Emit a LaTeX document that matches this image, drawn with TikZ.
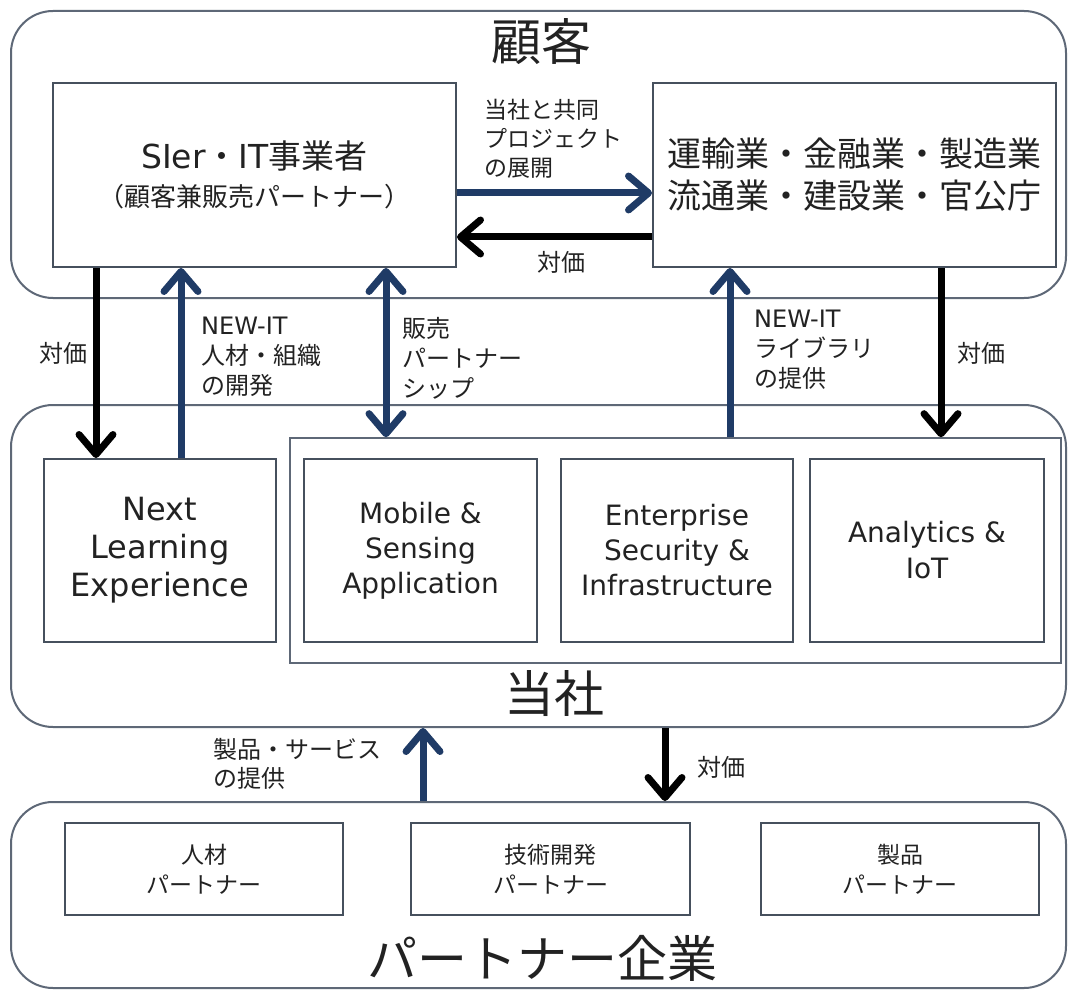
\documentclass[tikz,border=0pt]{standalone}
\usepackage{fontspec}
\setmainfont{Noto Sans CJK JP}
\newfontfamily\lat{DejaVu Sans}
\usetikzlibrary{arrows.meta}
\definecolor{navy}{HTML}{1F3B66}
\definecolor{frame}{HTML}{5E6877}
\definecolor{ink}{HTML}{222222}
\definecolor{boxline}{HTML}{46505D}
\newcommand{\fz}[2]{\fontsize{#1pt}{#2pt}\selectfont}
\begin{document}
\begin{tikzpicture}[x=1pt,y=-1pt,
  outer/.style={draw=frame, line width=2pt, rounded corners=42pt, inner sep=0pt},
  box/.style={draw=boxline, line width=2pt, inner sep=0pt, align=center, text=ink},
  title/.style={inner sep=0pt, text=ink, font=\fz{50}{60}},
  lbl/.style={inner sep=0pt, align=left, text=ink, anchor=north west, font=\fz{24}{30}},
  clbl/.style={inner sep=0pt, text=ink, font=\fz{24}{30}},
  barrow/.style={draw=navy, line width=7pt, -{Straight Barb[length=20pt,width=34pt,round]}},
  karrow/.style={draw=black, line width=7pt, -{Straight Barb[length=20pt,width=34pt,round]}},
  darrow/.style={draw=navy, line width=7pt, {Straight Barb[length=20pt,width=34pt,round]}-{Straight Barb[length=20pt,width=34pt,round]}}
]
\useasboundingbox (0,0) rectangle (1070,992);
\fill[white] (0,0) rectangle (1070,992);

% ---- customer layer
\node[outer, minimum width=1055pt, minimum height=287pt] (cust) at (538.5,154.5) {};
\node[title] (custT) at (541,42) {顧客};
\node[box, minimum width=403pt, minimum height=184pt, font=\fz{33}{38}] (sier) at (254.5,175)
  {{\lat SIer}・{\lat IT}事業者\\{\fz{26}{28}（顧客兼販売パートナー）}};
\node[box, minimum width=403pt, minimum height=184pt, font=\fz{34}{42}] (ind) at (854.5,175)
  {運輸業・金融業・製造業\\流通業・建設業・官公庁};

% ---- company layer
\node[outer, minimum width=1055pt, minimum height=322pt] (tosha) at (538.5,566) {};
\node[title] (toshaT) at (554,694) {当社};
\node[box, draw=frame, line width=1.6pt, minimum width=771pt, minimum height=225pt] (group) at (675.5,550.5) {};
\node[box, minimum width=232pt, minimum height=183pt, font={\lat\fz{32}{38}}] (nle) at (160,550.5)
  {Next\\Learning\\Experience};
\node[box, minimum width=233pt, minimum height=183pt, font={\lat\fz{28}{35}}] (mob) at (420.5,550.5)
  {Mobile \&\\Sensing\\Application};
\node[box, minimum width=232pt, minimum height=183pt, font={\lat\fz{28}{35}}] (ent) at (677,550.5)
  {Enterprise\\Security \&\\Infrastructure};
\node[box, minimum width=234pt, minimum height=183pt, font={\lat\fz{28}{36}}] (ana) at (927,550.5)
  {Analytics \&\\IoT};

% ---- partner layer
\node[outer, minimum width=1055pt, minimum height=186pt] (partner) at (538.5,895) {};
\node[title] (partnerT) at (542,958) {パートナー企業};
\node[box, minimum width=278pt, minimum height=92pt, font=\fz{23}{30}] (p1) at (204,869) {人材\\パートナー};
\node[box, minimum width=279pt, minimum height=92pt, font=\fz{23}{30}] (p2) at (550.5,869) {技術開発\\パートナー};
\node[box, minimum width=278pt, minimum height=92pt, font=\fz{23}{30}] (p3) at (900,869) {製品\\パートナー};

% ---- arrows between customer boxes
\draw[barrow] (sier.east |- 0,193) -- (ind.west |- 0,193);
\draw[karrow] (ind.west |- 0,237) -- (sier.east |- 0,237);
\node[lbl, font=\fz{23}{29}] (lbJoint) at (484,99) {当社と共同\\プロジェクト\\の展開};
\node[clbl] (lbPay1) at (561,262) {対価};

% ---- arrows customer <-> company
\draw[karrow] (sier.south -| 96,0) -- (nle.north -| 96,0);
\node[clbl] (lbPay2) at (63,353) {対価};
\draw[barrow] (nle.north -| 181,0) -- (sier.south -| 181,0);
\node[lbl] (lbHR) at (201,317) {{\lat NEW-IT}\\人材・組織\\の開発};
\draw[darrow] (sier.south -| 386,0) -- (group.north -| 386,0);
\node[lbl] (lbSales) at (402,317) {販売\\パートナー\\シップ};
\draw[barrow] (group.north -| 730,0) -- (ind.south -| 730,0);
\node[lbl] (lbLib) at (754,310) {{\lat NEW-IT}\\ライブラリ\\の提供};
\draw[karrow] (ind.south -| 941,0) -- (group.north -| 941,0);
\node[clbl] (lbPay3) at (981,353) {対価};

% ---- arrows company <-> partners
\draw[barrow] (partner.north -| 423,0) -- (tosha.south -| 423,0);
\node[lbl, font=\fz{24}{29}] (lbProd) at (213,738) {製品・サービス\\の提供};
\draw[karrow] (tosha.south -| 665,0) -- (partner.north -| 665,0);
\node[clbl] (lbPay4) at (721,767) {対価};
\end{tikzpicture}
\end{document}
